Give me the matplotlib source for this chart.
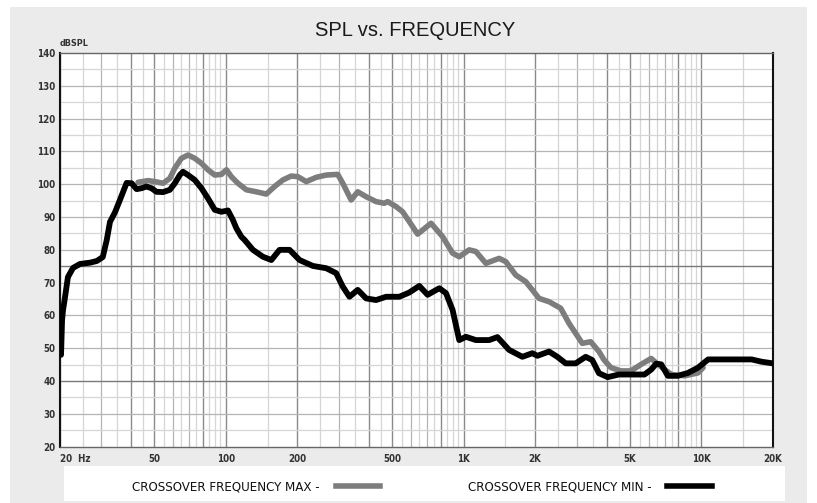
import matplotlib
matplotlib.use("Agg")
import matplotlib.pyplot as plt
from matplotlib.patches import Rectangle
from matplotlib.lines import Line2D
from matplotlib.ticker import NullLocator
from matplotlib.font_manager import FontProperties

# ---- data ----
freq_min = [20.3, 20.5, 20.7, 21.1, 21.7, 22.8, 24.4, 26.9, 28.7, 30.4, 31.6, 32.6,
            34.2, 35.9, 38.3, 40.2, 42.2, 44.3, 46.4, 48.7, 51.1, 54.5, 58.2, 61.1,
            64.1, 66.1, 69.4, 74.1, 79.0, 84.2, 89.9, 95.9, 102.2, 107.2, 110.8,
            116.3, 120.1, 130.1, 143.3, 155.5, 168.4, 185.5, 204.3, 232.4, 264.5,
            291.2, 310.5, 331.2, 358.9, 389.3, 428.7, 472.2, 537, 591.4, 651.4, 706,
            790.7, 843.5, 898.9, 958.9, 1023, 1126, 1281, 1388, 1554, 1767, 1946,
            2043, 2287, 2479, 2688, 2961, 3262, 3476, 3709, 4034, 4498, 5232, 5762,
            6148, 6459, 6777, 7226, 7960, 8791, 9681, 10672, 16265, 17914, 20000]
spl_min = [48.0, 58.6, 61.7, 65.6, 71.7, 74.5, 75.7, 76.1, 76.6, 77.8, 83.0, 88.5,
           91.4, 95.2, 100.4, 100.3, 98.5, 98.8, 99.3, 98.8, 97.7, 97.6, 98.3, 100.3,
           102.8, 103.8, 102.8, 101.3, 98.8, 95.7, 92.2, 91.6, 92.0, 89.1, 86.6,
           84.0, 83.0, 80.0, 77.9, 76.9, 80.0, 80.0, 76.9, 75.1, 74.4,
           72.9, 68.8, 65.7, 67.8, 65.2, 64.7, 65.7, 65.7, 67.0, 69.0, 66.3,
           68.3, 66.8, 61.7, 52.5, 53.5, 52.5, 52.5, 53.4, 49.5, 47.4, 48.5,
           47.7, 49.0, 47.4, 45.4, 45.4, 47.4, 46.4, 42.4, 41.2, 42.0, 42.0, 42.0,
           43.5, 45.3, 45.1, 41.6, 41.6, 42.5, 44.1, 46.6, 46.6, 45.9, 45.4]

freq_max = [42.8, 47.2, 50.3, 54.5, 58.2, 61.1, 65.1, 69.4, 74.1, 79.0, 84.2, 89.9,
            95.9, 100.7, 105.6, 112.5, 122.1, 134.4, 148.1, 160.4, 173.9, 188.5, 201,
            218.1, 240.1, 264.5, 295.8, 310.5, 336.7, 358.9, 389.3, 428.7, 464.4,
            479.5, 520, 554.3, 591.4, 640.8, 729.8, 816.3, 898.9, 958.9, 1056, 1126,
            1241, 1411, 1505, 1658, 1826, 2077, 2287, 2561, 2776, 3157, 3423, 3709,
            3891, 4165, 4587, 5053, 5582, 6148, 6560, 7017, 7475, 8515, 9681, 10165]
spl_max = [100.6, 101.1, 100.8, 100.3, 101.8, 104.9, 107.9, 108.9, 107.9, 106.4, 104.4, 102.8,
           103.0, 104.4, 102.3, 100.3, 98.3, 97.7, 97.0, 99.3, 101.3, 102.5, 102.3,
           100.8, 102.1, 102.8, 103.0, 100.3, 95.2, 97.7, 96.2, 94.7, 94.2,
           94.7, 93.2, 91.6, 88.6, 84.8, 88.1, 84.0, 79.0, 77.9, 80.0, 79.5,
           75.9, 77.4, 76.4, 72.3, 70.3, 65.2, 64.2, 62.2, 57.6, 51.5, 52.0, 49.0,
           46.5, 44.1, 43.1, 43.1, 45.1, 46.9, 45.1, 43.5, 42.0, 41.6, 42.5, 44.1]

ytick_vals = [20, 30, 40, 50, 60, 70, 80, 90, 100, 110, 120, 130, 140]
xtick_vals = [20, 50, 100, 200, 500, 1000, 2000, 5000, 10000, 20000]
xtick_labels = ['20  Hz', '50', '100', '200', '500', '1K', '2K', '5K', '10K', '20K']
series_labels = ['CROSSOVER FREQUENCY MAX -', 'CROSSOVER FREQUENCY MIN -']

# grid multipliers (per 20-200 block)
grid_mult = [1, 1.25, 1.5, 1.75, 2, 2.25, 2.5, 2.75, 3, 3.25, 3.5, 3.75, 4,
             4.25, 4.5, 4.75, 5, 7.5]
dark_mult = [1, 2, 2.5, 4, 5]
mid_mult = [1.5, 3, 3.5]

NARROW = ['DejaVu Sans']
W, H = 817, 503
fig = plt.figure(figsize=(W / 100, H / 100), dpi=100)
fig.patch.set_facecolor('white')
fig.patches.append(Rectangle((10 / W, 0), (807 - 10) / W, (H - 7) / H,
                             transform=fig.transFigure, facecolor='#ebebeb',
                             edgecolor='none', zorder=-10))
fig.patches.append(Rectangle((64 / W, (H - 501) / H), (785 - 64) / W, (501 - 466) / H,
                             transform=fig.transFigure, facecolor='white',
                             edgecolor='none', zorder=-9))

ax = fig.add_axes([59.5 / W, 1 - 446.7 / H, (773 - 59.5) / W, (446.7 - 53) / H])
ax.set_facecolor('white')
ax.set_xscale('log')
ax.set_xlim(20, 20000)
ax.set_ylim(20, 140)

# vertical grid
for k in range(3):
    for m in grid_mult:
        f = 20 * 10 ** k * m
        if m in dark_mult:
            c, lw = '#8a8a8a', 1.0
        elif m in mid_mult:
            c, lw = '#b4b4b4', 0.9
        else:
            c, lw = '#d6d6d6', 0.9
        ax.axvline(f, color=c, lw=lw, zorder=0)
# horizontal grid
for v in range(25, 140, 5):
    if v in (40, 75):
        c, lw = '#7a7a7a', 1.0
    elif v % 10 == 0:
        c, lw = '#b4b4b4', 0.9
    else:
        c, lw = '#d6d6d6', 0.9
    ax.axhline(v, color=c, lw=lw, zorder=0)

ax.plot(freq_max, spl_max, color='#7d7d7d', lw=4.0, solid_joinstyle='round',
        solid_capstyle='round', zorder=3)
ax.plot(freq_min, spl_min, color='black', lw=4.2, solid_joinstyle='round',
        solid_capstyle='round', zorder=4)

for side in ['left', 'right']:
    ax.spines[side].set_color('#111111')
    ax.spines[side].set_linewidth(1.5)
for side in ['top', 'bottom']:
    ax.spines[side].set_color('#666666')
    ax.spines[side].set_linewidth(1.0)

ax.xaxis.set_minor_locator(NullLocator())
ax.yaxis.set_minor_locator(NullLocator())
ax.set_xticks(xtick_vals)
ax.set_xticklabels(xtick_labels)
ax.set_yticks(ytick_vals)
ax.set_yticklabels([str(v) for v in ytick_vals])
ax.tick_params(axis='both', length=0, labelsize=7, labelcolor='#333333')
ax.tick_params(axis='x', pad=5)
ax.tick_params(axis='y', pad=3)
for lab in ax.get_xticklabels() + ax.get_yticklabels():
    lab.set_family(NARROW)
    lab.set_stretch('condensed')
    lab.set_fontweight('bold')
ax.get_xticklabels()[0].set_ha('left')

ax.text(0.0, 1.012, 'dBSPL', transform=ax.transAxes, ha='left', va='bottom',
        fontsize=6.5, family=NARROW, stretch='condensed', fontweight='bold',
        color='#333333')

fig.text(415 / W, 1 - 31 / H, 'SPL vs. FREQUENCY', ha='center', va='center',
         fontsize=14.5, family=['Liberation Sans', 'DejaVu Sans'], color='#1a1a1a')

handles = [Line2D([], [], color='#7d7d7d', lw=4), Line2D([], [], color='black', lw=4)]
legprop = FontProperties(family=NARROW, size=9.5, stretch='condensed')
fig.legend(handles, series_labels, loc='center', bbox_to_anchor=(422 / W, 1 - 487 / H),
           ncol=2, markerfirst=False, frameon=False, handlelength=3.4,
           handletextpad=1.2, columnspacing=6.6,
           prop=legprop, labelcolor='#111111')

fig.savefig('out.png', dpi=100, facecolor=fig.get_facecolor())
